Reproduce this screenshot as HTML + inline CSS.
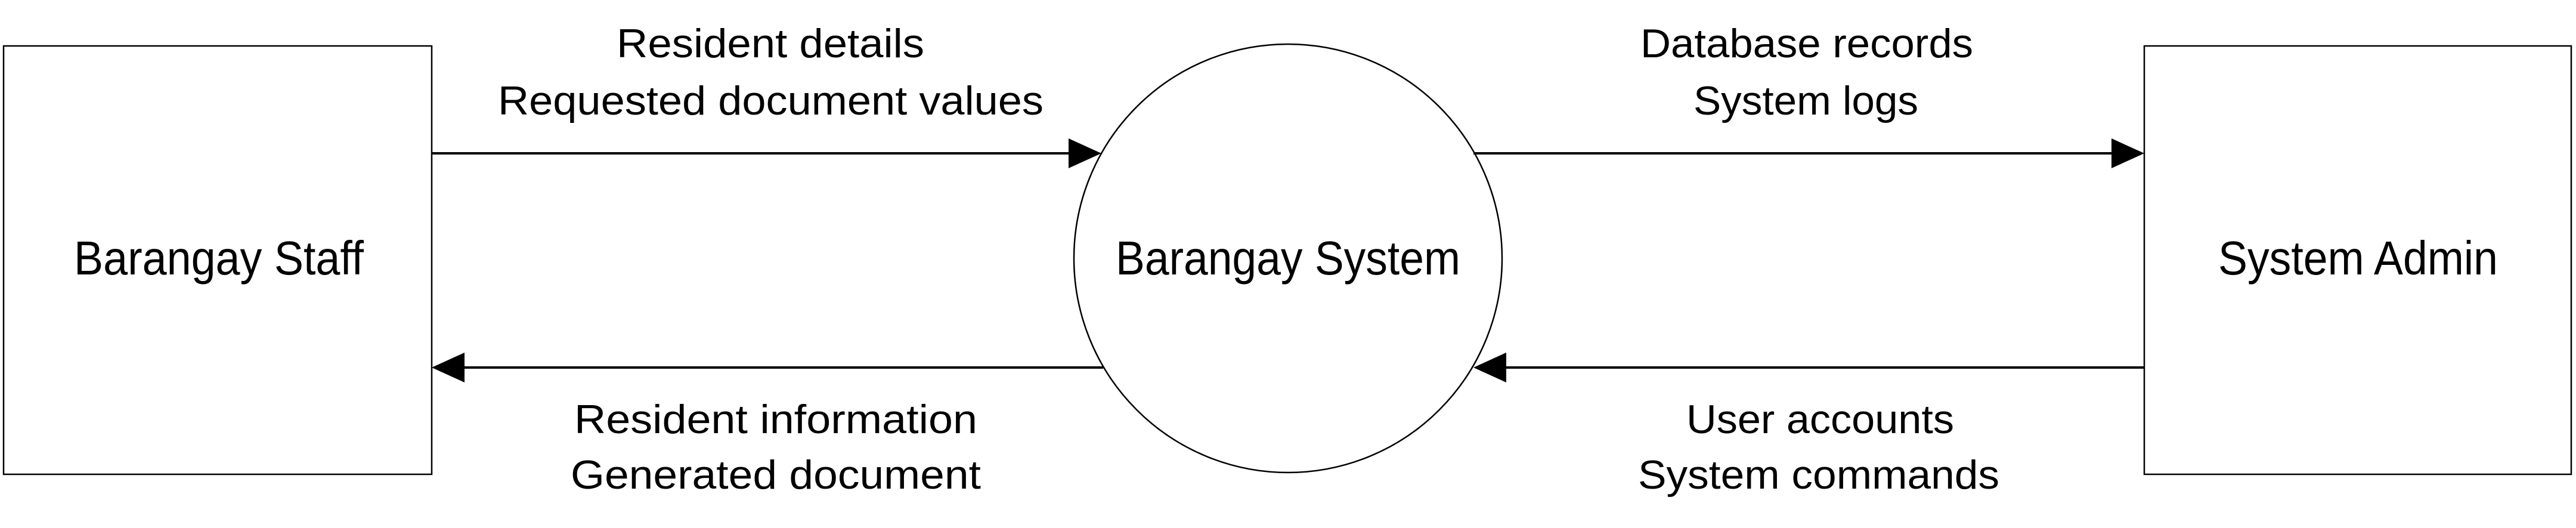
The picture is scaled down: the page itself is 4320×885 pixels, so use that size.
<!DOCTYPE html>
<html><head><meta charset="utf-8"><style>html,body{margin:0;padding:0;background:#fff}svg{display:block}</style></head>
<body>
<svg width="4320" height="885" viewBox="0 0 4320 885" xmlns="http://www.w3.org/2000/svg">
<g fill="none" stroke="#000" stroke-width="2.5">
<rect x="6" y="77" width="718" height="718"/>
<rect x="3596" y="77" width="716" height="718"/>
<circle cx="2160" cy="433" r="359"/>
<line x1="724" y1="257" x2="1795" y2="257" stroke-width="4"/>
<line x1="1850" y1="616" x2="775" y2="616" stroke-width="4"/>
<line x1="2471" y1="257" x2="3545" y2="257" stroke-width="4"/>
<line x1="3596" y1="616" x2="2520" y2="616" stroke-width="4"/>
</g>
<g fill="#000">
<polygon points="1792,232 1847,257 1792,282"/>
<polygon points="779,591 724,616 779,641"/>
<polygon points="3541,232 3596,257 3541,282"/>
<polygon points="2526,591 2471,616 2526,641"/>
</g>
<g font-family="'Liberation Sans', sans-serif" fill="#000">
<text x="124" y="460" font-size="80" textLength="486" lengthAdjust="spacingAndGlyphs">Barangay Staff</text>
<text x="1871" y="460" font-size="80" textLength="578" lengthAdjust="spacingAndGlyphs">Barangay System</text>
<text x="3720" y="460" font-size="80" textLength="469" lengthAdjust="spacingAndGlyphs">System Admin</text>
<g font-size="68">
<text x="1034" y="96" textLength="516" lengthAdjust="spacingAndGlyphs">Resident details</text>
<text x="835" y="192" textLength="915" lengthAdjust="spacingAndGlyphs">Requested document values</text>
<text x="963" y="726" textLength="676" lengthAdjust="spacingAndGlyphs">Resident information</text>
<text x="957" y="819" textLength="688" lengthAdjust="spacingAndGlyphs">Generated document</text>
<text x="2751" y="96" textLength="558" lengthAdjust="spacingAndGlyphs">Database records</text>
<text x="2840" y="192" textLength="377" lengthAdjust="spacingAndGlyphs">System logs</text>
<text x="2828" y="726" textLength="449" lengthAdjust="spacingAndGlyphs">User accounts</text>
<text x="2747" y="819" textLength="606" lengthAdjust="spacingAndGlyphs">System commands</text>
</g>
</g>
</svg>
</body></html>
